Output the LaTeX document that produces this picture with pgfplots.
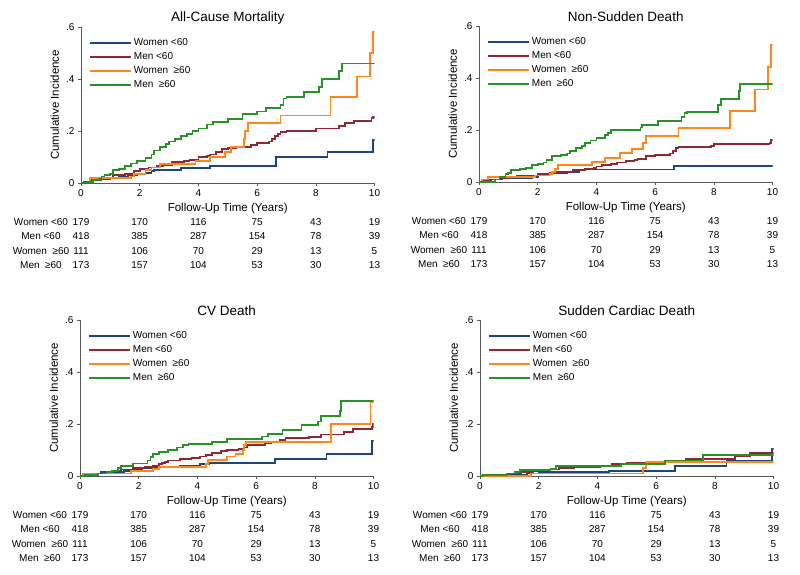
\documentclass[border=0pt]{standalone}
\usepackage{pgfplots}
\pgfplotsset{compat=1.18}
\usepackage{fontspec}
\setmainfont{Liberation Sans}
\definecolor{cnavy}{RGB}{30,70,125}
\definecolor{cmaroon}{RGB}{144,40,52}
\definecolor{corange}{RGB}{255,135,25}
\definecolor{cgreen}{RGB}{40,145,40}
\pgfplotsset{
 km/.style={
  width=293.5pt, height=156pt, scale only axis,
  xmin=0,xmax=10,ymin=0,ymax=0.6,
  axis x line*=bottom, axis y line*=left,
  axis line style={color=black!65, line width=0.6pt},
  xtick={0,2,4,6,8,10}, ytick={0,0.2,0.4,0.6}, yticklabels={0,.2,.4,.6},
  tick align=outside, major tick length=3pt,
  tick style={black!65, line width=0.6pt},
  /pgf/number format/assume math mode=true,
  ticklabel style={font=\fontsize{10}{12}\selectfont},
  xlabel={Follow-Up Time (Years)}, ylabel={Cumulative Incidence},
  label style={font=\fontsize{11.5}{13}\selectfont},
  xlabel style={at={(axis description cs:0.5,-0.166)}, anchor=center, yshift=0pt},
  ylabel style={at={(axis description cs:-0.089,0.5)}, anchor=center},
  title style={at={(axis description cs:0.5,1.019)}, anchor=center, yshift=0pt, font=\fontsize{13.5}{16}\selectfont},
  legend style={at={(axis description cs:0.027,0.945)}, anchor=north west, draw=none, fill=none,
    inner sep=0pt, font=\fontsize{10}{12}\selectfont, row sep=0pt,
    nodes={text height=8pt, text depth=2pt, inner sep=2pt}},
  legend cell align=left,
  legend image code/.code={\path (0pt,0pt) -- (41pt,0pt); \draw[#1, line width=1.8pt] (0pt,0pt) -- (38pt,0pt);},
  every axis plot/.append style={const plot, line width=1.8pt},
 }
}
\newcommand\risktable[2]{%
 \foreach \lab/\na/\nb/\nc/\nd/\ne/\nf [count=\r from 0] in {Women <60/179/170/116/75/43/19, Men <60/418/385/287/154/78/39, Women\ \ ≥60/111/106/70/29/13/5, Men\ \ ≥60/173/157/104/53/30/13}{%
  \pgfmathsetmacro\yy{#2-39-14.5*\r}
  \pgfmathsetmacro\xx{#1}
  \begin{scope}[every node/.style={font=\fontsize{10}{12}\selectfont, anchor=center, inner sep=0pt}]
  \node at (\xx pt-40pt,\yy pt) {\lab};
  \node at (\xx pt,\yy pt) {\na};
  \node at (\xx pt+58.7pt,\yy pt) {\nb};
  \node at (\xx pt+117.4pt,\yy pt) {\nc};
  \node at (\xx pt+176.1pt,\yy pt) {\nd};
  \node at (\xx pt+234.8pt,\yy pt) {\ne};
  \node at (\xx pt+293.5pt,\yy pt) {\nf};
  \end{scope}
 }}
\begin{document}
\begin{tikzpicture}
\useasboundingbox (0,0) rectangle (800pt,574pt);
% ---------------- Panel 1
\begin{axis}[km, at={(81pt,391pt)}, anchor=south west, title={All-Cause Mortality}]
\addplot[cnavy] coordinates {(0,0) (0.1,0.005) (0.3,0.01) (0.6,0.015) (1.0,0.02) (1.3,0.025) (1.6,0.03) (1.9,0.035) (2.2,0.04) (2.4,0.045) (2.5,0.05) (3.4,0.058) (4.4,0.065) (6.65,0.1) (8.4,0.12) (9.95,0.165) (10,0.165)};
\addplot[cmaroon] coordinates {(0,0) (0.3,0.01) (0.7,0.02) (1.1,0.03) (1.5,0.035) (1.8,0.045) (2.0,0.055) (2.3,0.06) (2.6,0.065) (2.8,0.07) (3.1,0.08) (3.5,0.085) (3.7,0.09) (4.0,0.1) (4.3,0.105) (4.4,0.11) (4.6,0.12) (4.8,0.13) (5.0,0.135) (5.3,0.14) (5.8,0.145) (6.0,0.155) (6.4,0.16) (6.5,0.17) (6.6,0.18) (6.7,0.19) (6.8,0.195) (7.0,0.2) (8.0,0.21) (8.8,0.22) (9.0,0.23) (9.3,0.24) (9.9,0.25) (9.95,0.255) (10,0.255)};
\addplot[corange] coordinates {(0,0) (0.3,0.02) (1.7,0.025) (1.8,0.035) (2.2,0.05) (2.4,0.06) (2.7,0.072) (3.9,0.085) (4.4,0.1) (4.9,0.12) (5.1,0.14) (5.55,0.17) (5.6,0.2) (5.7,0.23) (6.8,0.26) (8.5,0.33) (9.4,0.41) (9.85,0.5) (9.95,0.58) (10,0.58)};
\addplot[cgreen] coordinates {(0,0) (0.2,0.005) (0.4,0.01) (0.6,0.015) (0.7,0.025) (0.8,0.03) (1.0,0.035) (1.1,0.05) (1.3,0.055) (1.5,0.065) (1.7,0.075) (1.9,0.085) (2.2,0.095) (2.4,0.11) (2.5,0.125) (2.7,0.14) (2.9,0.15) (3.0,0.16) (3.2,0.17) (3.4,0.18) (3.6,0.19) (3.8,0.2) (4.0,0.21) (4.3,0.225) (4.5,0.235) (5.0,0.245) (5.5,0.265) (6.0,0.275) (6.3,0.29) (6.8,0.30) (6.9,0.325) (7.0,0.33) (7.6,0.35) (8.1,0.37) (8.2,0.40) (8.8,0.43) (8.9,0.46) (10,0.46)};
\legend{Women <60, Men <60, Women\ \ ≥60, Men\ \ ≥60}
\end{axis}
% ---------------- Panel 2
\begin{axis}[km, at={(479pt,392pt)}, anchor=south west, title={Non-Sudden Death}]
\addplot[cnavy] coordinates {(0,0) (0.1,0.005) (0.3,0.01) (0.7,0.015) (1.8,0.02) (2.0,0.025) (2.2,0.03) (2.5,0.035) (3.0,0.04) (3.4,0.045) (3.6,0.048) (6.65,0.062) (10,0.062)};
\addplot[cmaroon] coordinates {(0,0) (0.2,0.005) (0.4,0.01) (0.8,0.015) (1.0,0.02) (1.3,0.025) (2.0,0.03) (2.4,0.035) (2.6,0.04) (3.2,0.045) (3.6,0.05) (3.9,0.055) (4.0,0.06) (4.2,0.065) (4.5,0.07) (4.7,0.075) (5.0,0.08) (5.3,0.085) (5.4,0.09) (5.7,0.1) (6.0,0.105) (6.5,0.11) (6.6,0.12) (6.7,0.13) (6.8,0.135) (7.9,0.14) (8.0,0.145) (9.9,0.15) (9.95,0.163) (10,0.163)};
\addplot[corange] coordinates {(0,0) (0.1,0.01) (0.3,0.02) (1.9,0.025) (2.4,0.03) (2.5,0.04) (2.6,0.05) (2.7,0.065) (3.85,0.077) (4.3,0.093) (4.8,0.112) (5.2,0.128) (5.6,0.15) (5.7,0.176) (6.8,0.207) (8.55,0.272) (9.4,0.356) (9.85,0.443) (9.95,0.527) (10,0.527)};
\addplot[cgreen] coordinates {(0,0) (0.55,0.01) (0.7,0.02) (0.9,0.03) (1.0,0.035) (1.1,0.045) (1.4,0.05) (1.6,0.055) (1.8,0.065) (2.0,0.07) (2.2,0.075) (2.3,0.085) (2.5,0.1) (2.8,0.105) (3.0,0.11) (3.1,0.12) (3.3,0.13) (3.5,0.14) (3.6,0.15) (3.8,0.16) (4.0,0.17) (4.3,0.18) (4.4,0.19) (4.5,0.2) (5.5,0.21) (5.55,0.22) (6.1,0.235) (6.9,0.25) (7.0,0.265) (7.1,0.27) (8.15,0.295) (8.25,0.318) (8.85,0.35) (8.9,0.378) (10,0.378)};
\legend{Women <60, Men <60, Women\ \ ≥60, Men\ \ ≥60}
\end{axis}
% ---------------- Panel 3
\begin{axis}[km, at={(80pt,98pt)}, anchor=south west, title={CV Death}]
\addplot[cnavy] coordinates {(0,0) (0.1,0.005) (0.3,0.01) (0.7,0.015) (1.5,0.02) (1.8,0.025) (2.1,0.03) (2.5,0.035) (3.4,0.04) (4.1,0.045) (4.4,0.05) (6.65,0.065) (8.4,0.086) (9.95,0.134) (10,0.134)};
\addplot[cmaroon] coordinates {(0,0) (0.2,0.005) (0.5,0.01) (0.9,0.015) (1.1,0.02) (1.4,0.025) (1.8,0.03) (2.2,0.035) (2.5,0.04) (2.7,0.045) (2.8,0.05) (2.9,0.055) (3.0,0.06) (3.4,0.065) (3.8,0.07) (4.1,0.075) (4.3,0.08) (4.5,0.09) (4.8,0.095) (5.0,0.1) (5.4,0.105) (5.6,0.11) (5.7,0.12) (6.3,0.125) (6.5,0.13) (6.8,0.14) (7.0,0.145) (7.8,0.15) (8.2,0.16) (9.0,0.17) (9.3,0.18) (9.95,0.19) (9.97,0.2) (10,0.2)};
\addplot[corange] coordinates {(0,0) (0.1,0.01) (1.75,0.02) (2.5,0.026) (2.7,0.035) (4.3,0.045) (4.35,0.062) (5.0,0.075) (5.3,0.086) (5.55,0.1) (5.6,0.12) (5.65,0.131) (8.55,0.2) (9.9,0.283) (10,0.283)};
\addplot[cgreen] coordinates {(0,0) (0.2,0.005) (0.6,0.01) (0.9,0.015) (1.1,0.02) (1.3,0.03) (1.4,0.039) (1.8,0.048) (2.3,0.06) (2.4,0.073) (2.5,0.086) (2.7,0.093) (3.0,0.1) (3.3,0.11) (3.5,0.118) (3.7,0.123) (4.5,0.13) (5.0,0.142) (6.2,0.152) (6.4,0.163) (6.9,0.178) (7.55,0.195) (8.1,0.21) (8.2,0.23) (8.85,0.25) (8.9,0.29) (10,0.29)};
\legend{Women <60, Men <60, Women\ \ ≥60, Men\ \ ≥60}
\end{axis}
% ---------------- Panel 4
\begin{axis}[km, at={(480pt,98pt)}, anchor=south west, title={Sudden Cardiac Death}]
\addplot[cnavy] coordinates {(0,0) (0.2,0.005) (1.6,0.01) (2.0,0.015) (4.4,0.02) (6.65,0.04) (8.4,0.06) (9.95,0.105) (10,0.105)};
\addplot[cmaroon] coordinates {(0,0) (0.5,0.005) (1.0,0.01) (1.4,0.015) (1.8,0.02) (2.0,0.025) (2.7,0.03) (3.2,0.035) (4.1,0.04) (4.5,0.045) (5.0,0.05) (6.2,0.055) (6.5,0.06) (7.0,0.065) (8.7,0.075) (9.2,0.09) (10,0.09)};
\addplot[corange] coordinates {(0,0) (1.75,0.01) (5.55,0.03) (5.65,0.054) (10,0.054)};
\addplot[cgreen] coordinates {(0,0) (0.1,0.005) (0.9,0.01) (1.2,0.015) (1.35,0.022) (2.4,0.028) (2.6,0.037) (4.8,0.046) (6.3,0.06) (7.6,0.08) (10,0.08)};
\legend{Women <60, Men <60, Women\ \ ≥60, Men\ \ ≥60}
\end{axis}
% ---------------- Risk tables
\risktable{81}{391}
\risktable{479}{392}
\risktable{80}{98}
\risktable{480}{98}
\end{tikzpicture}
\end{document}
